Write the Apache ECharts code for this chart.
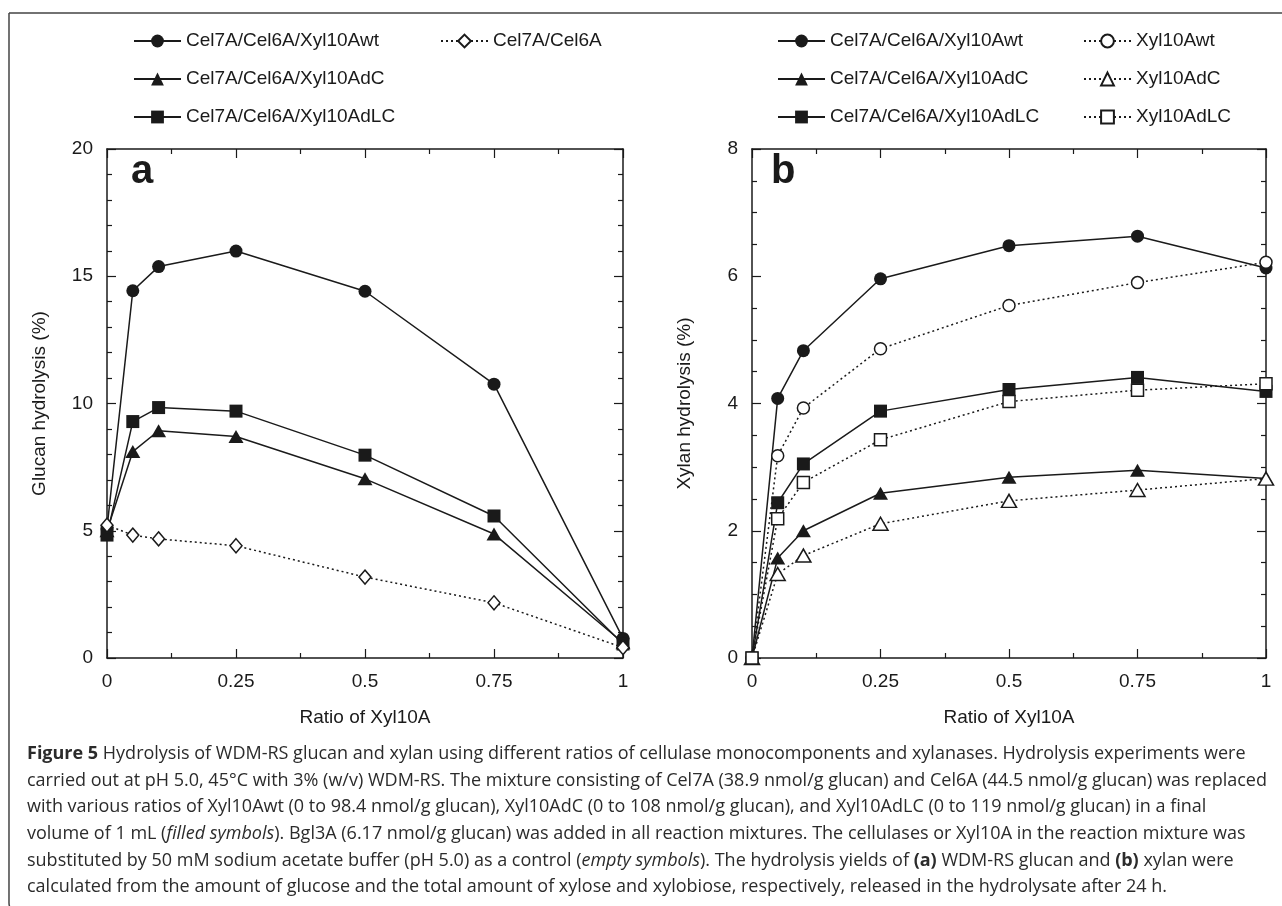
<!DOCTYPE html>
<html>
<head>
<meta charset="utf-8">
<script src="https://cdn.jsdelivr.net/npm/echarts@6/dist/echarts.min.js"></script>
<style>
  html, body { margin: 0; padding: 0; background: #fff; }
  #FigureDom { width: 1282px; height: 906px; }
</style>
</head>
<body>
<div id="FigureDom"></div>
<script>
// x values (ratio of Xyl10A), shared by both panels
const ratios = [0, 0.05, 0.1, 0.25, 0.5, 0.75, 1];

// panel a: glucan hydrolysis (%)
const glucanWt = [5.1, 14.43, 15.38, 15.99, 14.41, 10.76, 0.77];
const glucanAdC = [5.0, 8.11, 8.93, 8.70, 7.04, 4.87, 0.6];
const glucanAdLC = [4.83, 9.29, 9.84, 9.70, 7.97, 5.58, 0.55];
const glucanControl = [5.22, 4.83, 4.68, 4.41, 3.18, 2.17, 0.41];

// panel b: xylan hydrolysis (%)
const xylanWt = [0, 4.08, 4.83, 5.96, 6.48, 6.63, 6.13];
const xylanAdC = [0, 1.57, 2.00, 2.59, 2.84, 2.95, 2.82];
const xylanAdLC = [0, 2.44, 3.05, 3.88, 4.22, 4.41, 4.19];
const xylanOnlyWt = [0, 3.18, 3.93, 4.86, 5.54, 5.90, 6.22];
const xylanOnlyAdC = [0, 1.32, 1.61, 2.11, 2.47, 2.64, 2.82];
const xylanOnlyAdLC = [0, 2.19, 2.76, 3.43, 4.03, 4.21, 4.31];

const xTicks = ['0', '0.25', '0.5', '0.75', '1'];
const captionLines = [
  '{b|Figure 5} Hydrolysis of WDM-RS glucan and xylan using different ratios of cellulase monocomponents and xylanases. Hydrolysis experiments were',
  'carried out at pH 5.0, 45°C with 3% (w/v) WDM-RS. The mixture consisting of Cel7A (38.9 nmol/g glucan) and Cel6A (44.5 nmol/g glucan) was replaced',
  'with various ratios of Xyl10Awt (0 to 98.4 nmol/g glucan), Xyl10AdC (0 to 108 nmol/g glucan), and Xyl10AdLC (0 to 119 nmol/g glucan) in a final',
  'volume of 1 mL ({i|filled symbols}). Bgl3A (6.17 nmol/g glucan) was added in all reaction mixtures. The cellulases or Xyl10A in the reaction mixture was',
  'substituted by 50 mM sodium acetate buffer (pH 5.0) as a control ({i|empty symbols}). The hydrolysis yields of {b|(a)} WDM-RS glucan and {b|(b)} xylan were',
  'calculated from the amount of glucose and the total amount of xylose and xylobiose, respectively, released in the hydrolysate after 24 h.'
];

const INK = '#1a1a1a';
const FONT = 'Liberation Sans, Arial, sans-serif';
const CAP_FONT = 'Open Sans, Noto Sans, sans-serif';
const CAP_SIZE = 18;

const pairs = (ys) => ratios.map((x, i) => [x, ys[i]]);

const makeSeries = (name, ys, idx, symbol, size, filled, dotted) => ({
  name: name,
  type: 'line',
  xAxisIndex: idx,
  yAxisIndex: idx,
  data: pairs(ys),
  symbol: symbol,
  symbolSize: size,
  showSymbol: true,
  clip: false,
  z: filled ? 3 : 4,
  lineStyle: { color: INK, width: 1.5, type: dotted ? [2, 3] : 'solid' },
  itemStyle: { color: filled ? INK : '#fff', borderColor: INK, borderWidth: filled ? 0 : 1.5 }
});

const xAxisFor = (grid, pos) => ({
  type: 'value',
  gridIndex: grid,
  position: pos,
  min: 0,
  max: 1,
  interval: 0.25,
  name: pos === 'bottom' ? 'Ratio of Xyl10A' : '',
  nameLocation: 'middle',
  nameGap: 50,
  nameTextStyle: { fontFamily: FONT, fontSize: 19, color: INK },
  axisLine: { show: true, onZero: false, lineStyle: { color: INK, width: 1.5 } },
  axisTick: { show: true, inside: true, length: 9, lineStyle: { color: INK, width: 1.2 } },
  minorTick: { show: true, splitNumber: 2, length: 5, lineStyle: { color: INK, width: 1.2 } },
  axisLabel: {
    show: pos === 'bottom',
    margin: 14,
    fontFamily: FONT,
    fontSize: 19,
    color: INK,
    formatter: (v) => xTicks[Math.round(v / 0.25)]
  },
  splitLine: { show: false }
});

const yAxisFor = (grid, pos, max, step, minor, title) => ({
  type: 'value',
  gridIndex: grid,
  position: pos,
  min: 0,
  max: max,
  interval: step,
  name: pos === 'left' ? title : '',
  nameLocation: 'middle',
  nameGap: 58,
  nameTextStyle: { fontFamily: FONT, fontSize: 19, color: INK },
  axisLine: { show: true, onZero: false, lineStyle: { color: INK, width: 1.5 } },
  axisTick: { show: true, inside: true, length: 9, lineStyle: { color: INK, width: 1.2 } },
  minorTick: { show: true, splitNumber: minor, length: 5, lineStyle: { color: INK, width: 1.2 } },
  axisLabel: { show: pos === 'left', margin: 14, fontFamily: FONT, fontSize: 19, color: INK },
  splitLine: { show: false }
});

const legendFor = (left, names) => ({
  orient: 'vertical',
  left: left,
  top: 31,
  padding: 0,
  itemWidth: 47,
  itemHeight: 16,
  itemGap: 18,
  selectedMode: false,
  data: names,
  textStyle: { fontFamily: FONT, fontSize: 19, color: INK, lineHeight: 20 }
});

const filledNames = ['Cel7A/Cel6A/Xyl10Awt', 'Cel7A/Cel6A/Xyl10AdC', 'Cel7A/Cel6A/Xyl10AdLC'];
const openNames = ['Xyl10Awt', 'Xyl10AdC', 'Xyl10AdLC'];

const option = {
  animation: false,
  backgroundColor: '#fff',
  grid: [
    { left: 107, top: 149, width: 516, height: 509 },
    { left: 752, top: 149, width: 514, height: 509 }
  ],
  xAxis: [xAxisFor(0, 'bottom'), xAxisFor(1, 'bottom'), xAxisFor(0, 'top'), xAxisFor(1, 'top')],
  yAxis: [
    yAxisFor(0, 'left', 20, 5, 5, 'Glucan hydrolysis (%)'),
    yAxisFor(1, 'left', 8, 2, 4, 'Xylan hydrolysis (%)'),
    yAxisFor(0, 'right', 20, 5, 5, ''),
    yAxisFor(1, 'right', 8, 2, 4, '')
  ],
  legend: [
    legendFor(133, filledNames),
    legendFor(440, ['Cel7A/Cel6A']),
    legendFor(777, filledNames),
    legendFor(1083, openNames)
  ],
  series: [
    makeSeries(filledNames[0], glucanWt, 0, 'circle', 13, true, false),
    makeSeries(filledNames[1], glucanAdC, 0, 'triangle', [15, 13], true, false),
    makeSeries(filledNames[2], glucanAdLC, 0, 'rect', 13, true, false),
    makeSeries('Cel7A/Cel6A', glucanControl, 0, 'diamond', [12, 14], false, true),
    makeSeries(filledNames[0], xylanWt, 1, 'circle', 13, true, false),
    makeSeries(filledNames[1], xylanAdC, 1, 'triangle', [15, 13], true, false),
    makeSeries(filledNames[2], xylanAdLC, 1, 'rect', 13, true, false),
    makeSeries(openNames[0], xylanOnlyWt, 1, 'circle', 12, false, true),
    makeSeries(openNames[1], xylanOnlyAdC, 1, 'triangle', [15, 13], false, true),
    makeSeries(openNames[2], xylanOnlyAdLC, 1, 'rect', 12, false, true)
  ],
  graphic: [
    {
      type: 'rect',
      shape: { x: 9, y: 13, width: 1300, height: 900, r: [0, 0, 0, 10] },
      style: { fill: 'none', stroke: '#444', lineWidth: 1.5 }
    },
    { type: 'text', left: 131, top: 152, style: { text: 'a', fontFamily: FONT, fontSize: 40, fontWeight: 'bold', fill: INK } },
    { type: 'text', left: 771, top: 152, style: { text: 'b', fontFamily: FONT, fontSize: 40, fontWeight: 'bold', fill: INK } }
  ].concat(captionLines.map((line, i) => ({
    type: 'text',
    left: 27,
    top: 745 + i * 26.6,
    style: {
      text: line,
      fontFamily: CAP_FONT,
      fontSize: CAP_SIZE,
      fill: '#2b2b2b',
      rich: {
        b: { fontFamily: CAP_FONT, fontSize: CAP_SIZE, fontWeight: 'bold', fill: '#2b2b2b' },
        i: { fontFamily: CAP_FONT, fontSize: CAP_SIZE, fontStyle: 'italic', fill: '#2b2b2b' }
      }
    }
  })))
};

const myChart = echarts.init(document.getElementById('FigureDom'));
myChart.setOption(option);
</script>
</body>
</html>
